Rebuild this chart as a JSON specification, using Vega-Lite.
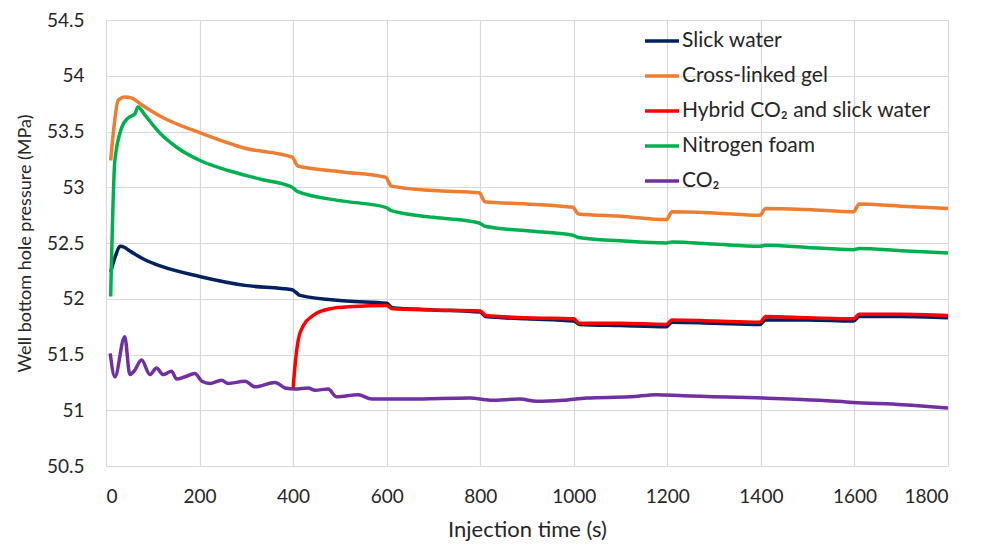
{
  "$schema": "https://vega.github.io/schema/vega-lite/v6.json",
  "autosize": "none",
  "width": 842,
  "height": 446,
  "padding": {"left": 106, "top": 20, "right": 38, "bottom": 79},
  "background": "white",
  "config": {
    "font": "Lato",
    "view": {"stroke": null},
    "axis": {"gridColor": "#d9d9d9", "gridWidth": 1.2, "domain": false, "ticks": false, "labelColor": "#262626", "titleColor": "#262626", "labelFont": "Lato", "titleFont": "Lato", "titleFontWeight": "normal"}
  },
  "data": {"values": [
    {"s":"Slick water","t":10,"p":52.24},{"s":"Slick water","t":20,"p":52.38},{"s":"Slick water","t":30,"p":52.47},{"s":"Slick water","t":40,"p":52.46},{"s":"Slick water","t":47,"p":52.44},{"s":"Slick water","t":83,"p":52.35},{"s":"Slick water","t":119,"p":52.29},{"s":"Slick water","t":200,"p":52.2},{"s":"Slick water","t":297,"p":52.12},{"s":"Slick water","t":398,"p":52.08},{"s":"Slick water","t":405,"p":52.06},{"s":"Slick water","t":415,"p":52.03},{"s":"Slick water","t":514,"p":51.98},{"s":"Slick water","t":600,"p":51.96},{"s":"Slick water","t":612,"p":51.92},{"s":"Slick water","t":700,"p":51.9},{"s":"Slick water","t":800,"p":51.88},{"s":"Slick water","t":812,"p":51.84},{"s":"Slick water","t":900,"p":51.82},{"s":"Slick water","t":1000,"p":51.8},{"s":"Slick water","t":1012,"p":51.77},{"s":"Slick water","t":1100,"p":51.76},{"s":"Slick water","t":1198,"p":51.75},{"s":"Slick water","t":1210,"p":51.79},{"s":"Slick water","t":1300,"p":51.78},{"s":"Slick water","t":1398,"p":51.77},{"s":"Slick water","t":1410,"p":51.81},{"s":"Slick water","t":1500,"p":51.81},{"s":"Slick water","t":1598,"p":51.8},{"s":"Slick water","t":1610,"p":51.84},{"s":"Slick water","t":1700,"p":51.84},{"s":"Slick water","t":1800,"p":51.83},

    {"s":"Cross-linked gel","t":10,"p":53.24},{"s":"Cross-linked gel","t":17,"p":53.54},{"s":"Cross-linked gel","t":26,"p":53.78},{"s":"Cross-linked gel","t":40,"p":53.81},{"s":"Cross-linked gel","t":55,"p":53.8},{"s":"Cross-linked gel","t":76,"p":53.74},{"s":"Cross-linked gel","t":119,"p":53.63},{"s":"Cross-linked gel","t":200,"p":53.49},{"s":"Cross-linked gel","t":297,"p":53.35},{"s":"Cross-linked gel","t":398,"p":53.27},{"s":"Cross-linked gel","t":410,"p":53.19},{"s":"Cross-linked gel","t":500,"p":53.14},{"s":"Cross-linked gel","t":598,"p":53.09},{"s":"Cross-linked gel","t":610,"p":53.01},{"s":"Cross-linked gel","t":700,"p":52.97},{"s":"Cross-linked gel","t":798,"p":52.95},{"s":"Cross-linked gel","t":810,"p":52.87},{"s":"Cross-linked gel","t":900,"p":52.85},{"s":"Cross-linked gel","t":998,"p":52.82},{"s":"Cross-linked gel","t":1010,"p":52.76},{"s":"Cross-linked gel","t":1100,"p":52.74},{"s":"Cross-linked gel","t":1198,"p":52.71},{"s":"Cross-linked gel","t":1210,"p":52.78},{"s":"Cross-linked gel","t":1300,"p":52.77},{"s":"Cross-linked gel","t":1398,"p":52.75},{"s":"Cross-linked gel","t":1410,"p":52.81},{"s":"Cross-linked gel","t":1500,"p":52.8},{"s":"Cross-linked gel","t":1598,"p":52.78},{"s":"Cross-linked gel","t":1610,"p":52.85},{"s":"Cross-linked gel","t":1700,"p":52.83},{"s":"Cross-linked gel","t":1800,"p":52.81},

    {"s":"Hybrid CO₂ and slick water","t":400,"p":51.2},{"s":"Hybrid CO₂ and slick water","t":406,"p":51.48},{"s":"Hybrid CO₂ and slick water","t":411,"p":51.63},{"s":"Hybrid CO₂ and slick water","t":422,"p":51.76},{"s":"Hybrid CO₂ and slick water","t":443,"p":51.85},{"s":"Hybrid CO₂ and slick water","t":479,"p":51.91},{"s":"Hybrid CO₂ and slick water","t":529,"p":51.93},{"s":"Hybrid CO₂ and slick water","t":600,"p":51.94},{"s":"Hybrid CO₂ and slick water","t":612,"p":51.91},{"s":"Hybrid CO₂ and slick water","t":700,"p":51.9},{"s":"Hybrid CO₂ and slick water","t":800,"p":51.89},{"s":"Hybrid CO₂ and slick water","t":812,"p":51.85},{"s":"Hybrid CO₂ and slick water","t":900,"p":51.83},{"s":"Hybrid CO₂ and slick water","t":1000,"p":51.82},{"s":"Hybrid CO₂ and slick water","t":1012,"p":51.78},{"s":"Hybrid CO₂ and slick water","t":1100,"p":51.78},{"s":"Hybrid CO₂ and slick water","t":1198,"p":51.77},{"s":"Hybrid CO₂ and slick water","t":1210,"p":51.81},{"s":"Hybrid CO₂ and slick water","t":1300,"p":51.8},{"s":"Hybrid CO₂ and slick water","t":1398,"p":51.79},{"s":"Hybrid CO₂ and slick water","t":1410,"p":51.84},{"s":"Hybrid CO₂ and slick water","t":1500,"p":51.83},{"s":"Hybrid CO₂ and slick water","t":1598,"p":51.82},{"s":"Hybrid CO₂ and slick water","t":1610,"p":51.86},{"s":"Hybrid CO₂ and slick water","t":1700,"p":51.86},{"s":"Hybrid CO₂ and slick water","t":1800,"p":51.85},

    {"s":"Nitrogen foam","t":10,"p":52.02},{"s":"Nitrogen foam","t":19,"p":53.24},{"s":"Nitrogen foam","t":34,"p":53.54},{"s":"Nitrogen foam","t":47,"p":53.62},{"s":"Nitrogen foam","t":62,"p":53.66},{"s":"Nitrogen foam","t":68,"p":53.72},{"s":"Nitrogen foam","t":83,"p":53.65},{"s":"Nitrogen foam","t":100,"p":53.56},{"s":"Nitrogen foam","t":119,"p":53.47},{"s":"Nitrogen foam","t":154,"p":53.35},{"s":"Nitrogen foam","t":201,"p":53.24},{"s":"Nitrogen foam","t":261,"p":53.15},{"s":"Nitrogen foam","t":333,"p":53.07},{"s":"Nitrogen foam","t":398,"p":53.0},{"s":"Nitrogen foam","t":410,"p":52.96},{"s":"Nitrogen foam","t":500,"p":52.88},{"s":"Nitrogen foam","t":598,"p":52.82},{"s":"Nitrogen foam","t":610,"p":52.79},{"s":"Nitrogen foam","t":700,"p":52.73},{"s":"Nitrogen foam","t":798,"p":52.68},{"s":"Nitrogen foam","t":810,"p":52.65},{"s":"Nitrogen foam","t":900,"p":52.61},{"s":"Nitrogen foam","t":998,"p":52.57},{"s":"Nitrogen foam","t":1010,"p":52.55},{"s":"Nitrogen foam","t":1100,"p":52.52},{"s":"Nitrogen foam","t":1198,"p":52.5},{"s":"Nitrogen foam","t":1210,"p":52.51},{"s":"Nitrogen foam","t":1300,"p":52.49},{"s":"Nitrogen foam","t":1398,"p":52.47},{"s":"Nitrogen foam","t":1410,"p":52.48},{"s":"Nitrogen foam","t":1500,"p":52.46},{"s":"Nitrogen foam","t":1598,"p":52.44},{"s":"Nitrogen foam","t":1610,"p":52.45},{"s":"Nitrogen foam","t":1700,"p":52.43},{"s":"Nitrogen foam","t":1800,"p":52.41},

    {"s":"CO₂","t":9,"p":51.51},{"s":"CO₂","t":19,"p":51.3},{"s":"CO₂","t":40,"p":51.66},{"s":"CO₂","t":51,"p":51.32},{"s":"CO₂","t":60,"p":51.35},{"s":"CO₂","t":76,"p":51.45},{"s":"CO₂","t":94,"p":51.32},{"s":"CO₂","t":108,"p":51.38},{"s":"CO₂","t":122,"p":51.32},{"s":"CO₂","t":140,"p":51.35},{"s":"CO₂","t":151,"p":51.28},{"s":"CO₂","t":169,"p":51.3},{"s":"CO₂","t":190,"p":51.33},{"s":"CO₂","t":205,"p":51.26},{"s":"CO₂","t":222,"p":51.24},{"s":"CO₂","t":247,"p":51.27},{"s":"CO₂","t":261,"p":51.24},{"s":"CO₂","t":297,"p":51.26},{"s":"CO₂","t":319,"p":51.21},{"s":"CO₂","t":361,"p":51.25},{"s":"CO₂","t":383,"p":51.2},{"s":"CO₂","t":404,"p":51.19},{"s":"CO₂","t":432,"p":51.2},{"s":"CO₂","t":447,"p":51.18},{"s":"CO₂","t":475,"p":51.19},{"s":"CO₂","t":493,"p":51.12},{"s":"CO₂","t":539,"p":51.14},{"s":"CO₂","t":568,"p":51.1},{"s":"CO₂","t":650,"p":51.1},{"s":"CO₂","t":778,"p":51.11},{"s":"CO₂","t":821,"p":51.09},{"s":"CO₂","t":885,"p":51.1},{"s":"CO₂","t":921,"p":51.08},{"s":"CO₂","t":977,"p":51.09},{"s":"CO₂","t":1028,"p":51.11},{"s":"CO₂","t":1120,"p":51.12},{"s":"CO₂","t":1177,"p":51.14},{"s":"CO₂","t":1234,"p":51.13},{"s":"CO₂","t":1404,"p":51.11},{"s":"CO₂","t":1526,"p":51.09},{"s":"CO₂","t":1597,"p":51.07},{"s":"CO₂","t":1704,"p":51.05},{"s":"CO₂","t":1800,"p":51.02}
  ]},
  "mark": {"type": "line", "strokeWidth": 3.5, "strokeJoin": "round", "interpolate": "monotone", "clip": true},
  "encoding": {
    "x": {"field": "t", "type": "quantitative", "scale": {"domain": [0, 1800], "nice": false},
      "axis": {"values": [0,200,400,600,800,1000,1200,1400,1600,1800], "format": "d", "title": "Injection time (s)", "labelFontSize": 19, "titleFontSize": 22, "labelPadding": 21, "titlePadding": 13}},
    "y": {"field": "p", "type": "quantitative", "scale": {"domain": [50.5, 54.5], "nice": false, "zero": false},
      "axis": {"values": [50.5,51,51.5,52,52.5,53,53.5,54,54.5], "format": "~g", "title": "Well bottom hole pressure (MPa)", "labelFontSize": 19, "titleFontSize": 18, "labelPadding": 22, "titlePadding": 12}},
    "color": {"field": "s", "type": "nominal", "sort": ["Slick water","Cross-linked gel","Hybrid CO₂ and slick water","Nitrogen foam","CO₂"],
      "scale": {"domain": ["Slick water","Cross-linked gel","Hybrid CO₂ and slick water","Nitrogen foam","CO₂"], "range": ["#002060","#ED7D31","#FF0000","#00B050","#7030A0"]},
      "legend": {"title": null, "orient": "none", "legendX": 537, "legendY": 2, "symbolType": "stroke", "symbolSize": 1156, "symbolStrokeWidth": 3.5, "labelFontSize": 21, "labelColor": "#262626", "labelOffset": 1, "rowPadding": 6, "labelLimit": 400}}
  }
}
